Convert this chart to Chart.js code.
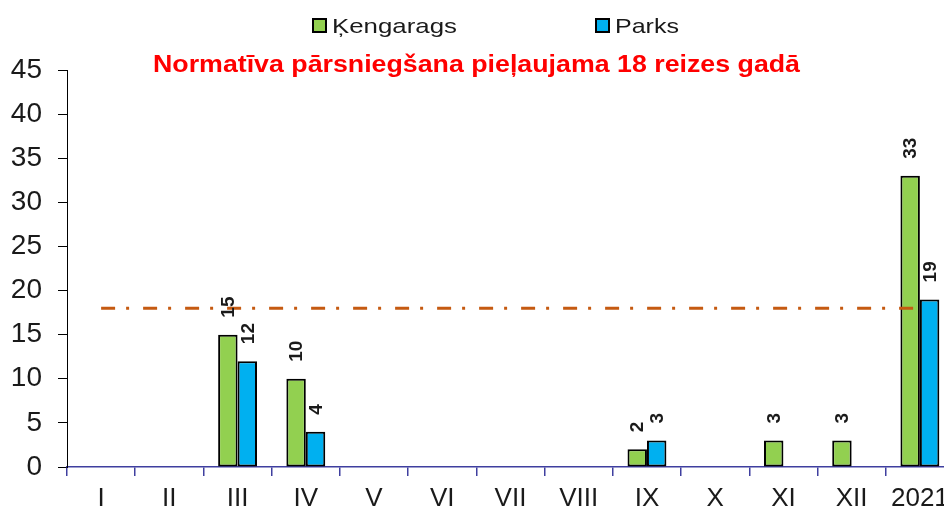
<!DOCTYPE html>
<html>
<head>
<meta charset="utf-8">
<script src="https://cdn.jsdelivr.net/npm/chart.js@4.4.1/dist/chart.umd.min.js"></script>
<style>
  html, body { margin: 0; padding: 0; background: #fff; overflow: hidden; }
  #wrap { width: 960px; height: 509px; }
</style>
</head>
<body>
<div id="wrap"><canvas id="chart" width="960" height="509"></canvas></div>
<script>
/* ── 데이터 ── */
const categories = ['I', 'II', 'III', 'IV', 'V', 'VI', 'VII', 'VIII', 'IX', 'X', 'XI', 'XII', '2021'];
const kengarags = [null, null, 15, 10, null, null, null, null, 2, null, 3, 3, 33];
const parks = [null, null, 12, 4, null, null, null, null, 3, null, null, null, 19];
const normLine = [18, 18, 18, 18, 18, 18, 18, 18, 18, 18, 18, 18, 18];
const yTicks = [0, 5, 10, 15, 20, 25, 30, 35, 40, 45];

const seriesNames = ['Ķengarags', 'Parks'];
const titleText = 'Normatīva pārsniegšana pieļaujama 18 reizes gadā';

const GREEN = '#92D050';
const BLUE = '#00B0F0';
const AXIS_BLUE = '#3F3F9F';
const TEXT = '#1a1a1a';

// 가로 폭을 맞춰서 텍스트 그리기 (원본은 가로로 조금 늘어나 있음)
function fitText(ctx, text, x, y, width) {
  const w = ctx.measureText(text).width;
  ctx.save();
  ctx.translate(x, y);
  ctx.scale(width / w, 1);
  ctx.fillText(text, 0, 0);
  ctx.restore();
}

/* ── 세로 데이터 라벨 ── */
const barLabelPlugin = {
  id: 'barLabels',
  afterDatasetsDraw(chart) {
    const { ctx } = chart;
    ctx.save();
    ctx.fillStyle = TEXT;
    ctx.font = 'bold 19px "Liberation Sans", Arial, sans-serif';
    ctx.textAlign = 'left';
    ctx.textBaseline = 'middle';
    chart.data.datasets.forEach((ds, di) => {
      if (ds.type === 'line') return;
      const meta = chart.getDatasetMeta(di);
      meta.data.forEach((bar, i) => {
        const v = ds.data[i];
        if (v == null) return;
        ctx.save();
        ctx.translate(bar.x, bar.y - 17);
        ctx.rotate(-Math.PI / 2);
        ctx.fillText(String(v), 0, 1);
        ctx.restore();
      });
    });
    ctx.restore();
  },
};

/* ── 범례 + 빨간 제목 ── */
const headerPlugin = {
  id: 'header',
  afterDraw(chart) {
    const { ctx } = chart;
    ctx.save();
    ctx.textBaseline = 'alphabetic';
    ctx.textAlign = 'left';

    // legend
    const items = [
      { x: 312, color: GREEN, label: seriesNames[0], w: 125 },
      { x: 595, color: BLUE, label: seriesNames[1], w: 64 },
    ];
    ctx.font = '21px "Liberation Sans", Arial, sans-serif';
    items.forEach((it) => {
      ctx.fillStyle = it.color;
      ctx.strokeStyle = '#000';
      ctx.lineWidth = 2;
      ctx.fillRect(it.x + 1, 19, 13, 13);
      ctx.strokeRect(it.x + 1, 19, 13, 13);
      ctx.fillStyle = TEXT;
      fitText(ctx, it.label, it.x + 20, 33, it.w);
    });

    // title
    ctx.font = 'bold 23px "Liberation Sans", Arial, sans-serif';
    ctx.fillStyle = '#FF0000';
    fitText(ctx, titleText, 153, 72, 647);
    ctx.restore();
  },
};

new Chart(document.getElementById('chart'), {
  type: 'bar',
  data: {
    labels: categories,
    datasets: [
      {
        type: 'line',
        label: 'norma',
        data: normLine,
        borderColor: '#C55A11',
        borderWidth: 3,
        borderDash: [14, 11, 3, 14],
        pointRadius: 0,
        fill: false,
        order: 0,
      },
      {
        label: seriesNames[0],
        data: kengarags,
        backgroundColor: GREEN,
        borderColor: '#000',
        borderWidth: 2,
        borderSkipped: false,
        categoryPercentage: 0.57,
        barPercentage: 1.0,
        order: 1,
      },
      {
        label: seriesNames[1],
        data: parks,
        backgroundColor: BLUE,
        borderColor: '#000',
        borderWidth: 2,
        borderSkipped: false,
        categoryPercentage: 0.57,
        barPercentage: 1.0,
        order: 1,
      },
    ],
  },
  options: {
    responsive: false,
    animation: false,
    layout: { padding: { left: 0, right: 6, top: 70, bottom: 0 } },
    plugins: {
      legend: { display: false },
      title: { display: false },
      tooltip: { enabled: false },
    },
    scales: {
      x: {
        offset: true,
        grid: {
          offset: true,
          drawOnChartArea: false,
          color: AXIS_BLUE,
          tickLength: 9,
          lineWidth: 1.5,
        },
        border: { color: AXIS_BLUE, width: 1.5 },
        ticks: {
          color: TEXT,
          padding: 7,
          maxRotation: 0,
          autoSkip: false,
          font: { family: '"Liberation Sans", Arial, sans-serif', size: 26 },
        },
        afterFit(scale) { scale.height = 42; },
      },
      y: {
        min: 0,
        max: 45,
        afterBuildTicks(scale) { scale.ticks = yTicks.map((v) => ({ value: v })); },
        grid: {
          drawOnChartArea: false,
          color: '#000',
          tickLength: 9,
        },
        border: { color: '#000', width: 1 },
        ticks: {
          color: TEXT,
          padding: 16,
          font: { family: '"Liberation Sans", Arial, sans-serif', size: 28 },
        },
        afterFit(scale) { scale.width = 67; },
      },
    },
  },
  plugins: [barLabelPlugin, headerPlugin],
});
</script>
</body>
</html>
